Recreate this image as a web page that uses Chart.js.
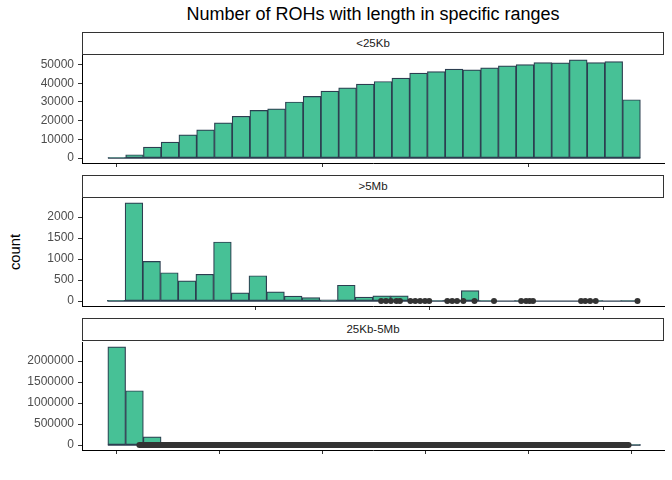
<!DOCTYPE html>
<html>
<head>
<meta charset="utf-8">
<script src="https://cdn.jsdelivr.net/npm/chart.js@4.4.0/dist/chart.umd.min.js"></script>
<style>
  body { margin: 0; background: #fff; font-family: "Liberation Sans", Arial, sans-serif; }
  #page { position: relative; width: 672px; height: 480px; overflow: hidden; }
  .title { position: absolute; left: 82px; width: 582px; top: 4px; text-align: center; font-size: 18px; color: #000; }
  .strip { position: absolute; left: 82px; width: 580px; height: 21px; border: 1px solid #333;
           text-align: center; font-size: 11.5px; line-height: 21px; color: #1a1a1a; }
  .panel { position: absolute; left: 0; width: 672px; height: 114px; }
  .ylab { position: absolute; left: 15px; top: 252px; transform: translate(-50%, -50%) rotate(-90deg);
          font-size: 14.7px; color: #000; white-space: nowrap; }
</style>
</head>
<body>
<div id="page">
  <div class="title">Number of ROHs with length in specific ranges</div>
  <div class="ylab">count</div>
  <div class="strip" id="strip1" style="top:32px"></div>
  <div class="panel" style="top:55px"><canvas id="c1"></canvas></div>
  <div class="strip" id="strip2" style="top:175px"></div>
  <div class="panel" style="top:198px"><canvas id="c2"></canvas></div>
  <div class="strip" id="strip3" style="top:318px"></div>
  <div class="panel" style="top:342px"><canvas id="c3"></canvas></div>
</div>
<script>
// facet labels
const panelLabels = ['<25Kb', '>5Mb', '25Kb-5Mb'];

// <25Kb : histogram counts, 30 bins (length in bp)
const countsShort = [200, 1810, 5850, 8510, 12450, 15100, 18830, 22340, 25530, 26280,
  30000, 32980, 35850, 37610, 39570, 40960, 42770, 45430, 46280, 47550,
  47180, 48240, 49310, 50000, 51060, 50900, 52500, 51060, 51600, 31220];
const shortFirst = 0, shortWidth = 862;
const shortXTicks = [0, 10000, 20000];
const shortYTicks = [0, 10000, 20000, 30000, 40000, 50000];

// >5Mb : histogram counts, 30 bins (length in Mb)
const countsLong = [20, 2340, 946, 676, 480, 638, 1409, 196, 605, 220,
  118, 85, 30, 378, 95, 125, 125, 10, 15, 25,
  250, 10, 0, 5, 0, 0, 0, 8, 0, 3];
const longFirst = 5.08, longWidth = 2.54;
const longXTicks = [25, 50, 75];
const longYTicks = [0, 500, 1000, 1500, 2000];
// boxplot outliers sitting on y = 0
const longOutliers = [43.1, 43.8, 44.5, 45.3, 45.8, 47.3, 48.0, 48.7, 49.4, 50.0,
  52.6, 53.3, 54.0, 54.9, 56.5, 59.3, 63.2, 63.9, 64.4, 64.9,
  71.8, 72.4, 73.1, 73.9, 79.9];

// 25Kb-5Mb : histogram counts, 30 bins (length in Mb)
const countsMid = [2339000, 1295000, 197000, 45000, 16000, 7000, 3500, 2000, 1200, 800,
  500, 350, 250, 180, 130, 100, 80, 60, 45, 35,
  28, 22, 18, 14, 11, 9, 7, 5, 4, 2];
const midFirst = 0, midWidth = 0.1724;
const midXTicks = [0, 1, 2, 3, 4, 5];
const midYTicks = [0, 500000, 1000000, 1500000, 2000000];
// outliers are so dense they merge into one band from here to here
const midOutlierRange = [0.22, 4.97];

Chart.defaults.font.family = '"Liberation Sans", Arial, sans-serif';

document.getElementById('strip1').textContent = panelLabels[0];
document.getElementById('strip2').textContent = panelLabels[1];
document.getElementById('strip3').textContent = panelLabels[2];

// empty bins are drawn by ggplot as flat outlines along 0
function baseline(first, width, n) {
  return {
    type: 'line',
    order: 1,
    data: [{ x: first - width / 2, y: 0 }, { x: first + (n - 0.5) * width, y: 0 }],
    borderColor: '#2c3e50',
    borderWidth: 1.2,
    pointRadius: 0
  };
}

function makePanel(id, counts, first, width, xMin, xMax, xTicks, yTicks, extra) {
  const maxVal = Math.max(...counts);
  const bars = {
    type: 'bar',
    order: 2,
    data: counts.map((c, i) => ({ x: first + i * width, y: c })),
    backgroundColor: '#47c196',
    borderColor: '#2c3e50',
    borderWidth: 1.2,
    borderSkipped: false,
    barPercentage: 1,
    categoryPercentage: 1
  };
  new Chart(document.getElementById(id), {
    type: 'bar',
    data: { datasets: [bars, baseline(first, width, counts.length)].concat(extra) },
    options: {
      responsive: true,
      maintainAspectRatio: false,
      animation: false,
      layout: { autoPadding: false, padding: { left: 0, right: 8, top: 0, bottom: 0 } },
      plugins: { legend: { display: false }, tooltip: { enabled: false } },
      scales: {
        x: {
          type: 'linear',
          min: xMin, max: xMax,
          offset: false,
          afterBuildTicks: s => { s.ticks = xTicks.map(v => ({ value: v })); },
          afterFit: s => { s.height = 6; s.paddingLeft = 0; s.paddingRight = 0; },
          ticks: { display: false },
          grid: { offset: false, drawOnChartArea: false, color: '#333', tickLength: 4 },
          border: { display: true, color: '#000', width: 1 }
        },
        y: {
          min: -0.05 * maxVal, max: 1.05 * maxVal,
          afterBuildTicks: s => { s.ticks = yTicks.map(v => ({ value: v })); },
          afterFit: s => { s.width = 82; s.paddingTop = 0; s.paddingBottom = 0; },
          ticks: { color: '#4d4d4d', font: { size: 12 }, padding: 4, callback: v => String(v) },
          grid: { offset: false, drawOnChartArea: false, color: '#333', tickLength: 4 },
          border: { display: true, color: '#000', width: 1 }
        }
      }
    }
  });
}

makePanel('c1', countsShort, shortFirst, shortWidth, -1690, 26576, shortXTicks, shortYTicks, []);

makePanel('c2', countsLong, longFirst, longWidth, 0.165, 83.7, longXTicks, longYTicks, [{
  type: 'scatter',
  order: 0,
  data: longOutliers.map(v => ({ x: v, y: 0 })),
  pointRadius: 3,
  pointBackgroundColor: '#333',
  pointBorderWidth: 0
}]);

makePanel('c3', countsMid, midFirst, midWidth, -0.337, 5.314, midXTicks, midYTicks, [{
  type: 'line',
  order: 0,
  data: midOutlierRange.map(v => ({ x: v, y: 0 })),
  borderColor: '#333',
  borderWidth: 6,
  borderCapStyle: 'round',
  pointRadius: 0
}]);
</script>
</body>
</html>
